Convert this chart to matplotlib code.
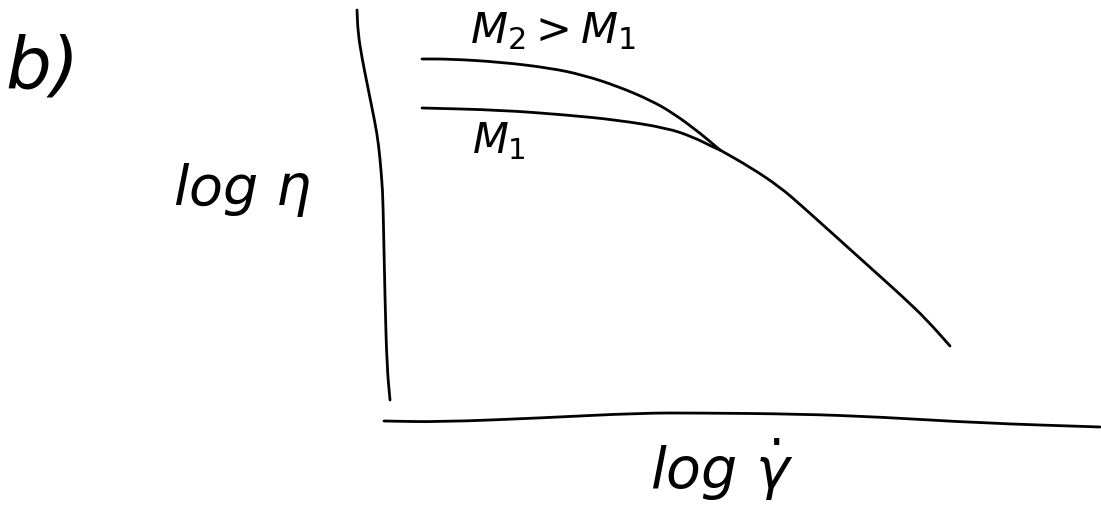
import matplotlib.pyplot as plt
from matplotlib.path import Path
from matplotlib.patches import PathPatch

# hand-sketched flow curves: log viscosity vs log shear rate, pixel coordinates
y_axis_x = [357, 358, 362, 367, 372, 377, 380, 382, 383, 385, 387, 390]
y_axis_y = [10, 33, 58, 83, 108, 133, 158, 183, 200, 300, 367, 400]

x_axis_x = [384, 440, 540, 640, 700, 800, 880, 980, 1100]
x_axis_y = [421, 422, 418, 413, 413, 414, 417, 423, 427]

# higher molecular weight plateau (M2)
m2_x = [422, 450, 500, 550, 583, 617, 650, 673, 700, 720]
m2_y = [59, 59, 62, 68, 75, 86, 100, 113, 133, 150]

# lower molecular weight plateau (M1)
m1_x = [422, 500, 567, 617, 667, 693, 713, 720]
m1_y = [108, 110, 115, 120, 128, 137, 147, 150]

# shared shear-thinning tail
tail_x = [720, 750, 780, 803, 843, 873, 903, 927, 950]
tail_y = [150, 167, 187, 207, 243, 270, 297, 320, 346]

labels = {
    'b)': (42, 68, 52),
    r'log $\eta$': (242, 190, 40),
    r'$M_2 > M_1$': (553, 31, 31),
    r'$M_1$': (499, 141, 30),
    r'log $\dot{\gamma}$': (722, 470, 41),
}


def pen_stroke(xs, ys):
    # smooth stroke through the points: quadratic segments between midpoints
    pts = list(zip(xs, ys))
    verts = [pts[0]]
    codes = [Path.MOVETO]
    mids = [((a[0] + b[0]) / 2, (a[1] + b[1]) / 2) for a, b in zip(pts[:-1], pts[1:])]
    verts.append(mids[0])
    codes.append(Path.LINETO)
    for p, m in zip(pts[1:-1], mids[1:]):
        verts += [p, m]
        codes += [Path.CURVE3, Path.CURVE3]
    verts.append(pts[-1])
    codes.append(Path.LINETO)
    return PathPatch(Path(verts, codes), fill=False, edgecolor='black', lw=2.0,
                     capstyle='round', joinstyle='round')


fig = plt.figure(figsize=(11.01, 5.18), dpi=100)
ax = fig.add_axes([0, 0, 1, 1])
ax.set_xlim(0, 1101)
ax.set_ylim(518, 0)
ax.axis('off')

for xs, ys in [(y_axis_x, y_axis_y), (x_axis_x, x_axis_y), (m2_x, m2_y),
               (m1_x, m1_y), (tail_x, tail_y)]:
    ax.add_patch(pen_stroke(xs, ys))

plt.rcParams['mathtext.fontset'] = 'dejavusans'
for txt, (x, y, size) in labels.items():
    ax.text(x, y, txt, fontsize=size, ha='center', va='center',
            family='DejaVu Sans', fontstyle='italic')

fig.savefig('out.png', dpi=100, facecolor='white')
